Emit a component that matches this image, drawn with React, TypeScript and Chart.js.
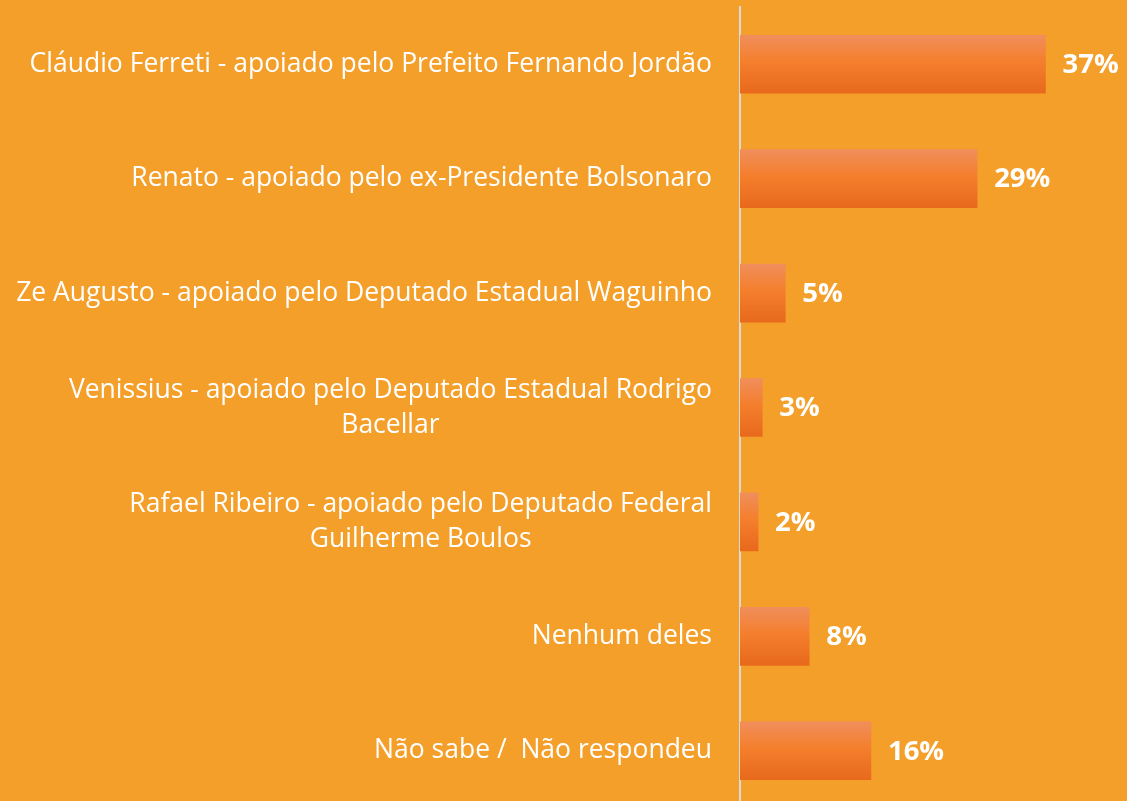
import React, { useEffect, useRef } from "react";
import { Chart, registerables } from "chart.js";

Chart.register(...registerables);

const categories: string[][] = [
  ["Cláudio Ferreti - apoiado pelo Prefeito Fernando Jordão"],
  ["Renato - apoiado pelo ex-Presidente Bolsonaro"],
  ["Ze Augusto - apoiado pelo Deputado Estadual Waguinho"],
  ["Venissius - apoiado pelo Deputado Estadual Rodrigo", "Bacellar"],
  ["Rafael Ribeiro - apoiado pelo Deputado Federal", "Guilherme Boulos"],
  ["Nenhum deles"],
  ["Não sabe /  Não respondeu"],
];
const values: number[] = [37.1, 28.8, 5.5, 2.7, 2.2, 8.4, 15.9];
const valueLabels: string[] = ["37%", "29%", "5%", "3%", "2%", "8%", "16%"];

const BG = "#F49F2A";

export default function App() {
  const ref = useRef<HTMLCanvasElement | null>(null);
  useEffect(() => {
    document.body.style.margin = "0";
    document.body.style.overflow = "hidden";
    const canvas = ref.current!;
    const labelPlugin = {
      id: "catLabels",
      afterDraw(chart: any) {
        const ctx = chart.ctx;
        const ys = chart.scales.y;
        ctx.save();
        ctx.font = '400 26.5px "Open Sans"';
        ctx.fillStyle = "#FFFFFF";
        ctx.textBaseline = "middle";
        ctx.textAlign = "center";
        const lh = 35;
        categories.forEach((lines, i) => {
          const cy = ys.getPixelForValue(i);
          const w = Math.max(...lines.map((l) => ctx.measureText(l).width));
          const cx = 712 - w / 2;
          const y0 = cy - ((lines.length - 1) * lh) / 2;
          lines.forEach((l, j) => ctx.fillText(l, cx, y0 + j * lh));
        });
        const meta = chart.getDatasetMeta(0);
        ctx.font = '700 27.5px "Open Sans"';
        ctx.textAlign = "left";
        meta.data.forEach((bar: any, i: number) => {
          ctx.fillText(valueLabels[i], bar.x + 17, bar.y + 1);
        });
        ctx.restore();
      },
    };
    const chart = new Chart(canvas, {
      type: "bar",
      data: {
        labels: categories.map((c) => c.join(" ")),
        datasets: [
          {
            data: values,
            borderWidth: 0,
            barThickness: 58,
            backgroundColor: (c: any) => {
              const ch = c.chart;
              const ys = ch.scales && ch.scales.y;
              if (!ys || !ch.chartArea || c.dataIndex === undefined) return "#F47E2E";
              const cy = ys.getPixelForValue(c.dataIndex);
              const g = ch.ctx.createLinearGradient(0, cy - 29, 0, cy + 29);
              g.addColorStop(0, "#F08E5C");
              g.addColorStop(0.45, "#F47F2D");
              g.addColorStop(1, "#E8691C");
              return g;
            },
          },
        ],
      },
      options: {
        indexAxis: "y",
        animation: false,
        responsive: false,
        maintainAspectRatio: false,
        layout: { padding: { left: 740, top: 7, right: 0, bottom: 0 } },
        plugins: { legend: { display: false }, tooltip: { enabled: false } },
        scales: {
          x: { display: false, min: 0, max: 47 },
          y: {
            display: true,
            ticks: { display: false },
            grid: { display: false, drawTicks: false },
            border: { display: true, color: "#DADADA", width: 2 },
            afterFit(s: any) {
              s.width = 0;
            },
          },
        },
      },
      plugins: [labelPlugin],
    });
    return () => chart.destroy();
  }, []);
  return (
    <div style={{ width: 1127, height: 801, overflow: "hidden", background: BG }}>
      <canvas ref={ref} width={1127} height={808} style={{ display: "block" }} />
    </div>
  );
}
